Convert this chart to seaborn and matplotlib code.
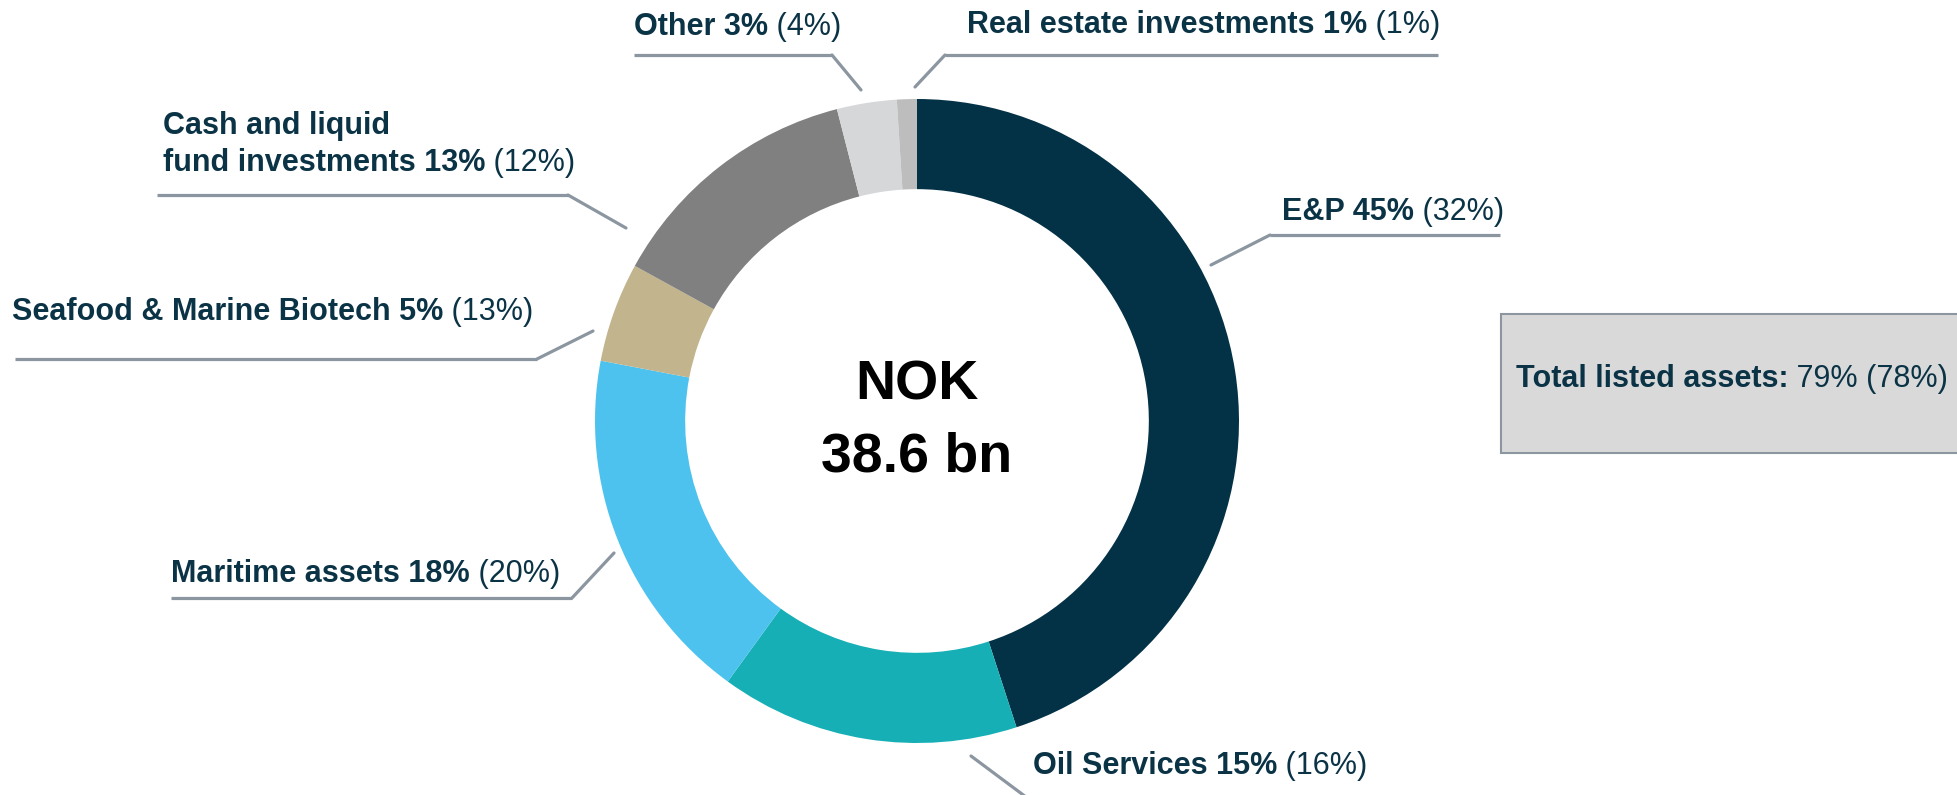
import numpy as np
import pandas as pd
import matplotlib
matplotlib.use("Agg")
import matplotlib.pyplot as plt
import seaborn as sns

# portfolio split, clockwise from 12 o'clock
segments = ["E&P", "Oil Services", "Maritime assets", "Seafood & Marine Biotech",
            "Cash and liquid\nfund investments", "Other", "Real estate investments"]
shares_now = [45, 15, 18, 5, 13, 3, 1]
shares_prev = [32, 16, 20, 13, 12, 4, 1]
seg_colors = ["#033246", "#16AFB5", "#4DC2EE", "#C2B48C", "#808080", "#D6D7D9", "#BDBDBD"]
total_text = "NOK\n38.6 bn"
listed_now, listed_prev = 79, 78

df = pd.DataFrame({"segment": segments, "now": shares_now, "prev": shares_prev, "color": seg_colors})

sns.set_theme(style="white")
plt.rcParams['font.family'] = ['Liberation Sans', 'DejaVu Sans']

W, H = 1957, 795
fig = plt.figure(figsize=(W / 100, H / 100), dpi=100)
ax = fig.add_axes([0, 0, 1, 1])

txt_col = "#0B3346"
line_col = "#8C96A0"
fs = 22

cx, cy, r = 917, H - 421, 322
ax.pie(df["now"], colors=df["color"], startangle=90, counterclock=False,
       center=(cx, cy), radius=r, wedgeprops=dict(width=r * 0.28, linewidth=0))

nok, bn = total_text.split("\n")
ax.text(cx, H - 386, nok, ha="center", va="center", fontsize=40, fontweight="bold", color="black")
ax.text(cx, H - 457, bn, ha="center", va="center", fontsize=40, fontweight="bold", color="black")

# label layout: text pos, horizontal line (x0, x1, y), elbow x, end point on ring
layout = {
    "E&P": dict(tx=1282, ty=212, hl=(1270, 1500, 235), ex=1270, end=(1211, 265)),
    "Oil Services": dict(tx=1033, ty=766, hl=None, ex=None, end=None),
    "Maritime assets": dict(tx=171, ty=574, hl=(171, 572, 598), ex=572, end=(614, 553)),
    "Seafood & Marine Biotech": dict(tx=12, ty=312, hl=(15, 537, 359), ex=537, end=(593, 331)),
    "Cash and liquid\nfund investments": dict(tx=163, ty=163, hl=(157, 568, 195), ex=568, end=(626, 228)),
    "Other": dict(tx=634, ty=27, hl=(634, 832, 55), ex=832, end=(861, 90)),
    "Real estate investments": dict(tx=967, ty=25, hl=(945, 1438, 55), ex=945, end=(915, 87)),
}

for _, row in df.iterrows():
    L = layout[row["segment"]]
    name = row["segment"]
    if "\n" in name:
        first, second = name.split("\n")
        ax.text(L["tx"], H - L["ty"] + 37, first, ha="left", va="center",
                fontsize=fs, fontweight="bold", color=txt_col)
        name = second
    t = ax.text(L["tx"], H - L["ty"], f"{name} {row['now']}%", ha="left", va="center",
                fontsize=fs, fontweight="bold", color=txt_col)
    ax.annotate(f" ({row['prev']}%)", xy=(1, 0.5), xycoords=t, ha="left", va="center",
                fontsize=fs, color=txt_col)
    if L["hl"] is not None:
        x0, x1, y = L["hl"]
        ax.plot([x0, x1], [H - y, H - y], color=line_col, lw=2.3, solid_capstyle="butt")
        ax.plot([L["ex"], L["end"][0]], [H - y, H - L["end"][1]], color=line_col, lw=2.3)

# oil services leader runs off the bottom edge
ax.plot([971, 1030], [H - 756, H - 800], color=line_col, lw=2.3)

# listed assets box
ax.add_patch(plt.Rectangle((1501, H - 453), 480, 139, facecolor="#D9D9D9",
                           edgecolor=line_col, lw=1.5))
tb = ax.text(1516, H - 379, "Total listed assets:", ha="left", va="center",
             fontsize=fs, fontweight="bold", color=txt_col)
ax.annotate(f" {listed_now}% ({listed_prev}%)", xy=(1, 0.5), xycoords=tb, ha="left",
            va="center", fontsize=fs, color=txt_col)

ax.set_xlim(0, W)
ax.set_ylim(0, H)
ax.set_aspect("equal")
ax.axis("off")

fig.savefig("out.png", dpi=100, facecolor="white")
